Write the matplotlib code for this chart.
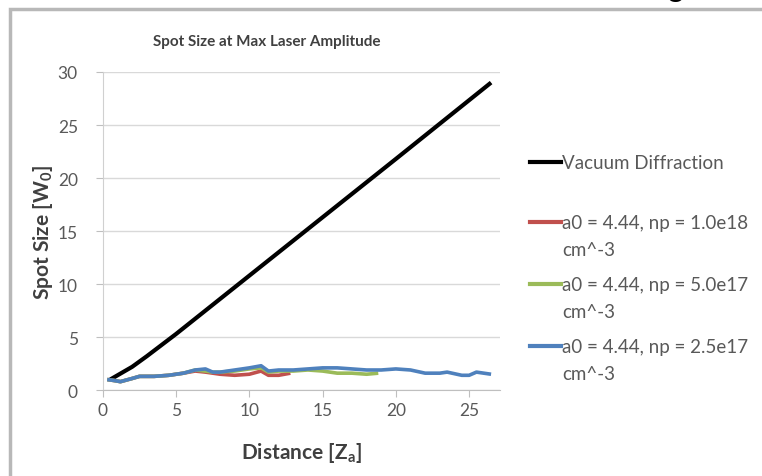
import numpy as np
import matplotlib
matplotlib.use("Agg")
import matplotlib.pyplot as plt
from matplotlib.lines import Line2D
from matplotlib.patches import Rectangle

plt.rcParams["font.family"] = ["Lato", "DejaVu Sans"]
plt.rcParams["mathtext.fontset"] = "custom"
plt.rcParams["mathtext.rm"] = "Lato"
plt.rcParams["mathtext.bf"] = "Lato:bold"

# --- data ---
vac_x = [0.5, 1.0, 2.0, 3.0, 5.0, 10.0, 15.0, 20.0, 26.5]
vac_y = [1.0, 1.4, 2.2, 3.2, 5.3, 10.8, 16.3, 21.8, 29.0]

red_x = [0.3, 0.8, 1.2, 2.0, 2.5, 3.5, 4.5, 5.5, 6.3, 7.0, 7.5, 8.0, 9.0, 10.0,
         10.8, 11.3, 12.0, 12.8]
red_y = [1.0, 0.9, 0.8, 1.1, 1.3, 1.3, 1.4, 1.6, 1.8, 1.7, 1.6, 1.5, 1.4, 1.5,
         1.8, 1.4, 1.4, 1.6]

green_x = [0.3, 0.8, 1.2, 2.0, 2.5, 3.5, 4.5, 5.5, 6.3, 7.0, 7.5, 8.0, 9.0,
           10.0, 10.8, 11.3, 12.0, 13.0, 14.0, 15.0, 16.0, 17.0, 18.0, 18.8]
green_y = [1.0, 0.9, 0.8, 1.1, 1.3, 1.3, 1.4, 1.6, 1.9, 1.8, 1.7, 1.7, 1.8,
           2.0, 2.1, 1.7, 1.8, 1.8, 1.9, 1.8, 1.6, 1.6, 1.5, 1.6]

blue_x = [0.3, 0.8, 1.2, 2.0, 2.5, 3.5, 4.5, 5.5, 6.3, 7.0, 7.5, 8.0, 9.0, 10.0,
          10.8, 11.3, 12.0, 13.0, 14.0, 15.0, 16.0, 17.0, 18.0, 19.0, 20.0,
          21.0, 22.0, 23.0, 23.5, 24.5, 25.0, 25.5, 26.0, 26.5]
blue_y = [1.0, 0.9, 0.8, 1.1, 1.3, 1.3, 1.4, 1.6, 1.9, 2.0, 1.7, 1.7, 1.9, 2.1,
          2.3, 1.8, 1.9, 1.9, 2.0, 2.1, 2.1, 2.0, 1.9, 1.9, 2.0, 1.9, 1.6, 1.6,
          1.7, 1.4, 1.4, 1.7, 1.6, 1.5]

labels = ["Vacuum Diffraction",
          "a0 = 4.44, np = 1.0e18\ncm^-3",
          "a0 = 4.44, np = 5.0e17\ncm^-3",
          "a0 = 4.44, np = 2.5e17\ncm^-3"]
colours = ["black", "#c0504d", "#9bbb59", "#4f81bd"]
widths = [3.0, 2.6, 2.6, 2.6]

x_ticks = [0, 5, 10, 15, 20, 25]
y_ticks = [0, 5, 10, 15, 20, 25, 30]

fig = plt.figure(figsize=(7.62, 4.77), dpi=100)
ax = fig.add_axes([0.135, 0.180, 0.521, 0.667])

series = [(vac_x, vac_y), (red_x, red_y), (green_x, green_y), (blue_x, blue_y)]
for (xs, ys), c, lw in zip(series, colours, widths):
    ax.plot(xs, ys, color=c, lw=lw, solid_capstyle="butt", solid_joinstyle="round")

ax.set_xlim(0, 27.1)
ax.set_ylim(0, 30)
ax.set_xticks(x_ticks)
ax.set_yticks(y_ticks)
ax.tick_params(labelsize=12.5, labelcolor="#595959", color="#bfbfbf", length=5)
ax.tick_params(axis="y", pad=13)
ax.grid(True, axis="y", color="#d9d9d9", lw=1)
ax.set_axisbelow(True)
for s in ["top", "right"]:
    ax.spines[s].set_visible(False)
ax.spines["left"].set_color("#d0d0d0")
ax.spines["bottom"].set_color("#bfbfbf")

ax.set_xlabel(r"Distance [Z$_\mathbf{a}$]", fontsize=15, fontweight="bold",
              color="#404040", labelpad=16)
ax.set_ylabel(r"Spot Size [W$_\mathbf{0}$]", fontsize=15, fontweight="bold",
              color="#404040", labelpad=2)

fig.text(0.350, 1 - 42 / 477, "Spot Size at Max Laser Amplitude", fontsize=11,
         fontweight="bold", color="#404040", ha="center", va="center")

# manual legend (handle aligned with first text line, like the original)
leg_y = [163, 223, 285, 347]
line_gap = 27
for lab, c, yy in zip(labels, colours, leg_y):
    yf = 1 - yy / 477
    fig.add_artist(Line2D([530 / 762, 561 / 762], [yf, yf], color=c, lw=3.0,
                          transform=fig.transFigure))
    for i, part in enumerate(lab.split("\n")):
        fig.text(562 / 762, 1 - (yy + 6 + i * line_gap) / 477, part,
                 fontsize=13.5, color="#595959", ha="left", va="baseline")

# chart frame and the cut-off slide glyph
fig.add_artist(Rectangle((10 / 762, -0.05), 1.2, 1 - 10 / 477 + 0.05,
                         transform=fig.transFigure, fill=False,
                         edgecolor="#b8b8b8", lw=2.5))
fig.text(676 / 762, 1 + 3 / 477, "g", fontsize=22, color="black",
         ha="center", va="baseline")

fig.savefig("out.png", dpi=100)
